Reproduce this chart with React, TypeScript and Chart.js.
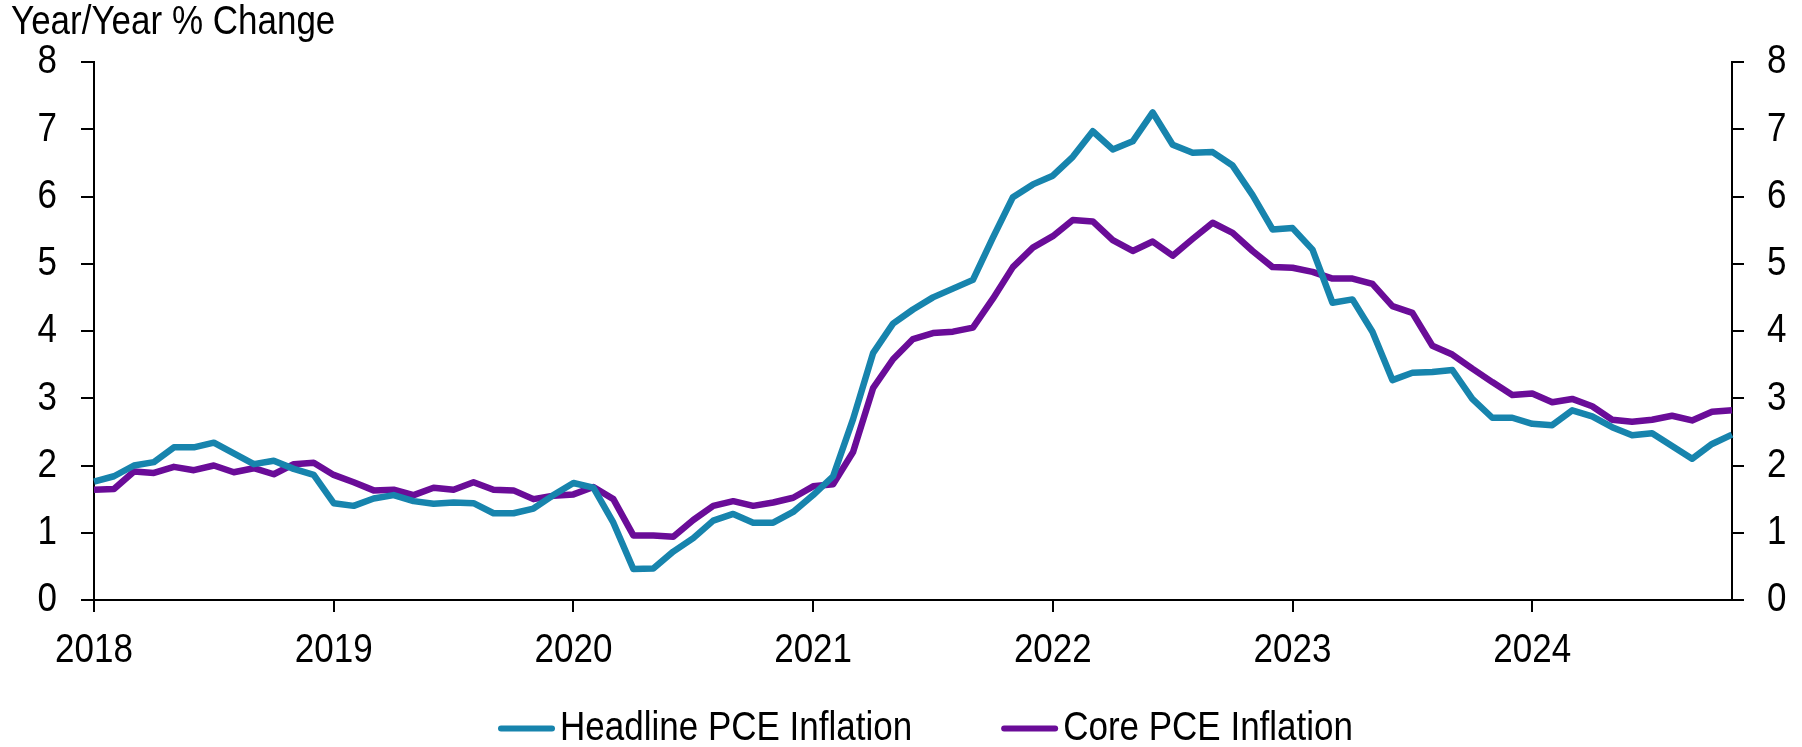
import React, { useEffect, useRef } from 'react';
import { Chart, registerables } from 'chart.js';

Chart.register(...registerables);

const TITLE = 'Year/Year % Change';
const YEARS = ['2018', '2019', '2020', '2021', '2022', '2023', '2024'];
const MONTHS = ['Jan', 'Feb', 'Mar', 'Apr', 'May', 'Jun', 'Jul', 'Aug', 'Sep', 'Oct', 'Nov', 'Dec'];

const headline = [
  1.76, 1.84, 2.0, 2.05, 2.27, 2.27, 2.34, 2.18, 2.02, 2.07, 1.95, 1.86,
  1.44, 1.4, 1.51, 1.56, 1.47, 1.43, 1.45, 1.44, 1.29, 1.29, 1.36, 1.56,
  1.74, 1.67, 1.15, 0.46, 0.47, 0.72, 0.92, 1.18, 1.28, 1.15, 1.15, 1.31,
  1.56, 1.84, 2.69, 3.67, 4.11, 4.32, 4.5, 4.63, 4.76, 5.39, 5.99, 6.18,
  6.31, 6.59, 6.97, 6.7, 6.82, 7.25, 6.77, 6.65, 6.66, 6.46, 6.02, 5.51,
  5.53, 5.21, 4.42, 4.47, 3.99, 3.27, 3.38, 3.39, 3.42, 2.99, 2.71, 2.71,
  2.62, 2.6, 2.82, 2.73, 2.57, 2.45, 2.48, 2.29, 2.1, 2.32, 2.46,
];

const core = [
  1.64, 1.65, 1.91, 1.89, 1.98, 1.93, 2.0, 1.9, 1.96, 1.87, 2.02, 2.04,
  1.86, 1.75, 1.63, 1.64, 1.56, 1.67, 1.64, 1.75, 1.64, 1.63, 1.5, 1.55,
  1.57, 1.68, 1.5, 0.96, 0.96, 0.94, 1.19, 1.4, 1.47, 1.4, 1.45, 1.52,
  1.69, 1.72, 2.2, 3.15, 3.58, 3.88, 3.97, 3.99, 4.05, 4.48, 4.95, 5.24,
  5.41, 5.65, 5.63, 5.35, 5.19, 5.33, 5.12, 5.37, 5.61, 5.46, 5.19, 4.95,
  4.94, 4.88, 4.78, 4.78, 4.7, 4.37, 4.27, 3.78, 3.65, 3.44, 3.24, 3.05,
  3.07, 2.94, 2.99, 2.88, 2.68, 2.65, 2.68, 2.74, 2.67, 2.8, 2.82,
];

const categories = YEARS.flatMap((y) => MONTHS.map((m) => `${m} ${y}`)).slice(0, headline.length);

const TEAL = '#1784ad';
const PURPLE = '#6a0c98';
const FONT = "'Liberation Sans', Arial, sans-serif";
const FS = 35;
const TEXT_STRETCH = 1.18;
const LINE_WIDTH = 6.5;

export default function App() {
  const ref = useRef<HTMLCanvasElement>(null);

  useEffect(() => {
    document.body.style.margin = '0';

    // The reference text is drawn slightly taller than it is wide: stretch glyphs vertically.
    const stretchPlugin = {
      id: 'stretchText',
      beforeInit(chart: any) {
        const ctx = chart.ctx as any;
        if (ctx.__origFillText) return;
        const orig = ctx.fillText;
        ctx.__origFillText = orig;
        ctx.fillText = function (text: string, x: number, y: number, maxWidth?: number) {
          this.save();
          this.translate(x, y);
          this.scale(1, TEXT_STRETCH);
          if (maxWidth === undefined || maxWidth === null) orig.call(this, text, 0, 0);
          else orig.call(this, text, 0, 0, maxWidth);
          this.restore();
        };
      },
    };

    const titlePlugin = {
      id: 'cornerTitle',
      afterDraw(chart: any) {
        const { ctx, chartArea } = chart;
        ctx.save();
        ctx.font = `${FS}px ${FONT}`;
        ctx.fillStyle = '#000';
        ctx.textAlign = 'left';
        ctx.textBaseline = 'alphabetic';
        ctx.fillText(TITLE, chartArea.left - 83, chartArea.top - 28);
        ctx.restore();
      },
    };

    const legendPlugin = {
      id: 'lineLegend',
      afterDraw(chart: any) {
        const { ctx, chartArea } = chart;
        const LINE = 57;
        const GAP = 5;
        const SPACING = 89;
        const LW = 6;
        ctx.save();
        ctx.font = `${FS}px ${FONT}`;
        ctx.textAlign = 'left';
        ctx.textBaseline = 'middle';
        let x = chartArea.left + 404;
        const y = chartArea.bottom + 128.5;
        chart.data.datasets.forEach((ds: any) => {
          ctx.strokeStyle = ds.borderColor;
          ctx.lineWidth = LW;
          ctx.lineCap = 'round';
          ctx.beginPath();
          ctx.moveTo(x + LW / 2, y);
          ctx.lineTo(x + LINE - LW / 2, y);
          ctx.stroke();
          ctx.fillStyle = '#000';
          ctx.fillText(ds.label, x + LINE + GAP, y);
          x += LINE + GAP + ctx.measureText(ds.label).width + SPACING;
        });
        ctx.restore();
      },
    };

    const yAxis = (position: 'left' | 'right', width: number, tickLength: number, padding: number) => ({
      position,
      min: 0,
      max: 8,
      ticks: { stepSize: 1, padding, color: '#000', font: { family: FONT, size: FS } },
      grid: { drawOnChartArea: false, drawTicks: true, tickLength, color: '#000', lineWidth: 2 },
      border: { display: true, color: '#000', width: 2 },
      afterFit(scale: any) {
        scale.width = width;
      },
    });

    const chart = new Chart(ref.current as HTMLCanvasElement, {
      type: 'line',
      data: {
        labels: categories,
        datasets: [
          {
            label: 'Headline PCE Inflation',
            data: headline,
            borderColor: TEAL,
            backgroundColor: TEAL,
            borderWidth: LINE_WIDTH,
            pointRadius: 0,
            tension: 0,
            borderJoinStyle: 'round',
            yAxisID: 'y',
          },
          {
            label: 'Core PCE Inflation',
            data: core,
            borderColor: PURPLE,
            backgroundColor: PURPLE,
            borderWidth: LINE_WIDTH,
            pointRadius: 0,
            tension: 0,
            borderJoinStyle: 'round',
            yAxisID: 'y',
          },
        ],
      },
      options: {
        animation: false,
        responsive: true,
        maintainAspectRatio: false,
        layout: { padding: { top: 62, left: 0, right: 0, bottom: 60 } },
        plugins: {
          tooltip: { enabled: false },
          legend: { display: false },
        },
        scales: {
          x: {
            type: 'category',
            offset: false,
            ticks: {
              autoSkip: false,
              maxRotation: 0,
              padding: 18,
              color: '#000',
              font: { family: FONT, size: FS },
              callback: (_v: any, index: number) => (index % 12 === 0 ? YEARS[index / 12] : ''),
            },
            grid: {
              drawOnChartArea: false,
              drawTicks: true,
              tickLength: 12,
              lineWidth: 2,
              color: (ctx: any) => (ctx.index % 12 === 0 ? '#000' : 'rgba(0,0,0,0)'),
            },
            border: { display: true, color: '#000', width: 2 },
            afterFit(scale: any) {
              scale.height = 87;
            },
          },
          y: yAxis('left', 94, 13, 24),
          y1: yAxis('right', 70, 12, 23),
        },
      } as any,
      plugins: [stretchPlugin, titlePlugin, legendPlugin],
    });
    return () => chart.destroy();
  }, []);

  return (
    <div style={{ width: '1802px', height: '747px', position: 'relative' }}>
      <canvas ref={ref} />
    </div>
  );
}
